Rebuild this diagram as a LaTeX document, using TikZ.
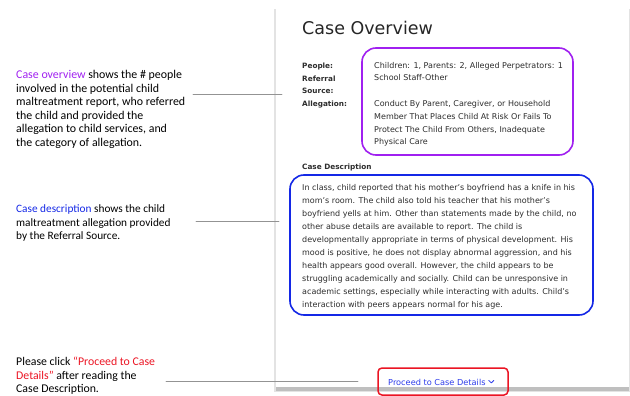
\documentclass[tikz,border=0pt]{standalone}
\usepackage{fontspec}
\setmainfont{Carlito}
\newfontfamily\uifont{DejaVu Sans}
\usetikzlibrary{positioning}
\definecolor{ovpurple}{RGB}{160,32,240}
\definecolor{descblue}{RGB}{20,40,230}
\definecolor{btnred}{RGB}{235,20,35}
\definecolor{linkblue}{RGB}{45,60,235}
\definecolor{uitext}{RGB}{45,45,45}
\begin{document}
\begin{tikzpicture}[x=1pt,y=-1pt,line join=round,line cap=round]
	\tikzset{
		note/.style={anchor=base west,inner sep=0pt,align=left,font=\fontsize{11.9}{13.6}\selectfont},
		lead/.style={draw=gray!85,line width=0.8pt},
		ui/.style={anchor=base west,inner sep=0pt,align=left,text=uitext,font=\uifont\fontsize{8}{12.7}\selectfont},
		uibold/.style={ui,font=\uifont\bfseries\fontsize{7.3}{12.8}\selectfont},
		hilite/.style={rounded corners=14pt,line width=1.6pt}
	}
	\useasboundingbox (0,0) rectangle (630,396);
	% panel
	\fill[gray!22] (273.5,9) rectangle (630,392);
	\fill[gray!50] (276,387) rectangle (629,390.5);
	\fill[white] (275.5,8) rectangle (628.5,387);
	% left notes (anchored at the last baseline)
	\node[note] (ovnote) at (16,146.5) {\textcolor{ovpurple}{Case overview} shows the \# people\\involved in the potential child\\maltreatment report, who referred\\the child and provided the\\allegation to child services, and\\the category of allegation.};
	\node[note,font=\fontsize{11.3}{13.3}\selectfont] (dsnote) at (16,239.5) {\textcolor{descblue}{Case description} shows the child\\maltreatment allegation provided\\by the Referral Source.};
	\node[note,font=\fontsize{11.8}{13.5}\selectfont] (pcnote) at (16,392.5) {Please click \textcolor{btnred}{``Proceed to Case}\\\textcolor{btnred}{Details''} after reading the\\Case Description.};
	% panel text
	\node[ui,text=black!85,font=\uifont\fontsize{17.5}{20}\selectfont] (title) at (302,35) {Case Overview};
	\node[uibold] (people) at (302,106.7) {People:\\Referral\\Source:\\Allegation:};
	\node[ui] (counts) at (374,81) {Children: 1, Parents: 2, Alleged Perpetrators: 1\\School Staff-Other};
	\node[ui] (alleg) at (374,144.8) {Conduct By Parent, Caregiver, or Household\\Member That Places Child At Risk Or Fails To\\Protect The Child From Others, Inadequate\\Physical Care};
	\node[uibold] (deschead) at (302,169.3) {Case Description};
	\node[ui,font=\uifont\fontsize{8}{13}\selectfont] (desc) at (302,307.7) {In class, child reported that his mother’s boyfriend has a knife in his\\mom’s room. The child also told his teacher that his mother’s\\boyfriend yells at him. Other than statements made by the child, no\\other abuse details are available to report. The child is\\developmentally appropriate in terms of physical development. His\\mood is positive, he does not display abnormal aggression, and his\\health appears good overall. However, the child appears to be\\struggling academically and socially. Child can be unresponsive in\\academic settings, especially while interacting with adults. Child’s\\interaction with peers appears normal for his age.};
	% highlight boxes
	\draw[hilite,ovpurple] (362,48) rectangle (573,155);
	\draw[hilite,descblue] (290,175) rectangle (593,315);
	\node[ui,text=linkblue,font=\uifont\fontsize{8.2}{10}\selectfont] (proceed) at (388,385) {Proceed to Case Details};
	\draw[linkblue,line width=0.8pt] ([xshift=3pt]proceed.east) ++(0,-1.5) -- ++(2.5,2.5) -- ++(2.5,-2.5);
	\draw[btnred,line width=1.5pt,rounded corners=4pt] (378,368) rectangle (508,395);
	% leaders
	\coordinate (ovA) at (193,94);
	\coordinate (ovB) at (282,94);
	\coordinate (dsA) at (196,221);
	\coordinate (dsB) at (279,221);
	\coordinate (pcA) at (166,381.5);
	\coordinate (pcB) at (358,381.5);
	\draw[lead] (ovA) -- (ovB);
	\draw[lead] (dsA) -- (dsB);
	\draw[lead] (pcA) -- (pcB);
\end{tikzpicture}
\end{document}
